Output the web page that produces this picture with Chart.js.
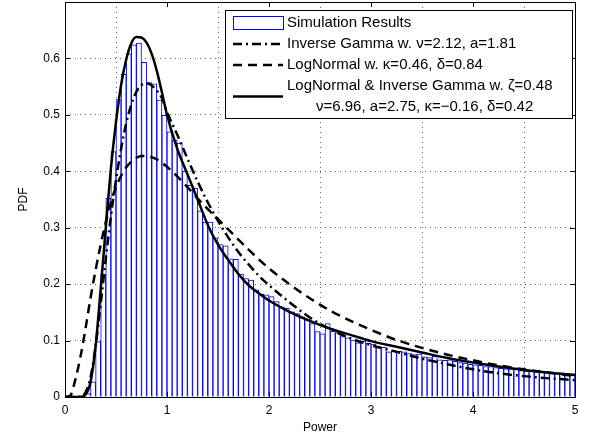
<!DOCTYPE html>
<html>
<head>
<meta charset="utf-8">
<script src="https://cdn.jsdelivr.net/npm/chart.js@4.4.0/dist/chart.umd.min.js"></script>
<style>
  html, body { margin: 0; padding: 0; background: #fff; }
  #wrap { width: 593px; height: 438px; }
</style>
</head>
<body>
<div id="wrap"><canvas id="pdfChart" width="593" height="438"></canvas></div>
<script>
// histogram: 100 bins of width 0.05 from 0 to 5
const binStart = 0;
const binWidth = 0.05;
const simHeights = [
  0, 0, 0, 0.001, 0.006, 0.027, 0.098, 0.218, 0.352, 0.435,
  0.527, 0.572, 0.608, 0.624, 0.627, 0.593, 0.557, 0.555, 0.526, 0.499,
  0.470, 0.455, 0.450, 0.400, 0.375, 0.370, 0.330, 0.310, 0.310, 0.282,
  0.270, 0.268, 0.245, 0.244, 0.218, 0.210, 0.207, 0.190, 0.182, 0.181,
  0.178, 0.169, 0.160, 0.157, 0.151, 0.148, 0.142, 0.137, 0.130, 0.116,
  0.112, 0.130, 0.117, 0.114, 0.107, 0.105, 0.101, 0.096, 0.099, 0.095,
  0.094, 0.089, 0.088, 0.080, 0.082, 0.081, 0.080, 0.077, 0.075, 0.076,
  0.071, 0.070, 0.072, 0.066, 0.065, 0.066, 0.063, 0.061, 0.060, 0.058,
  0.057, 0.056, 0.054, 0.054, 0.052, 0.051, 0.050, 0.050, 0.049, 0.047,
  0.046, 0.047, 0.045, 0.044, 0.044, 0.042, 0.043, 0.041, 0.042, 0.041
];

// fitted curves, sampled at these powers
const curveX = [
  0, 0.05, 0.1, 0.15, 0.2, 0.25, 0.3, 0.35, 0.4, 0.45,
  0.5, 0.55, 0.6, 0.65, 0.7, 0.75, 0.8, 0.85, 0.9, 0.95,
  1.0, 1.1, 1.2, 1.3, 1.4, 1.5, 1.6, 1.7, 1.8, 1.9,
  2.0, 2.2, 2.4, 2.6, 2.8, 3.0, 3.25, 3.5, 3.75, 4.0,
  4.25, 4.5, 4.75, 5.0
];
const invGammaPdf = [
  0, 0, 0, 0.001, 0.008, 0.035, 0.090, 0.165, 0.245, 0.320,
  0.385, 0.440, 0.485, 0.518, 0.541, 0.553, 0.556, 0.552, 0.543, 0.530,
  0.505, 0.465, 0.423, 0.382, 0.345, 0.312, 0.283, 0.257, 0.235, 0.215,
  0.198, 0.168, 0.141, 0.120, 0.104, 0.092, 0.080, 0.068, 0.058, 0.049,
  0.042, 0.037, 0.033, 0.030
];
const logNormalPdf = [
  0, 0.002, 0.030, 0.070, 0.120, 0.175, 0.225, 0.270, 0.310, 0.345,
  0.372, 0.392, 0.407, 0.417, 0.424, 0.427, 0.427, 0.425, 0.421, 0.415,
  0.408, 0.391, 0.372, 0.352, 0.333, 0.315, 0.297, 0.279, 0.261, 0.244,
  0.228, 0.200, 0.175, 0.153, 0.135, 0.119, 0.101, 0.087, 0.075, 0.065,
  0.056, 0.049, 0.043, 0.037
];
const mixturePdf = [
  0, 0, 0, 0.0005, 0.004, 0.026, 0.090, 0.192, 0.300, 0.405,
  0.487, 0.553, 0.598, 0.627, 0.638, 0.637, 0.628, 0.608, 0.578, 0.540,
  0.500, 0.440, 0.395, 0.350, 0.305, 0.270, 0.243, 0.218, 0.198, 0.184,
  0.171, 0.151, 0.135, 0.121, 0.110, 0.099, 0.089, 0.079, 0.069, 0.061,
  0.054, 0.048, 0.043, 0.039
];

const xTicks = [0, 1, 2, 3, 4, 5];
const yTicks = [0, 0.1, 0.2, 0.3, 0.4, 0.5, 0.6];

const fontFamily = "'Liberation Sans', Arial, Helvetica, sans-serif";

function toPoints(xs, ys) {
    return xs.map((x, i) => ({ x: x, y: ys[i] }));
}

const histData = simHeights.map((h, i) => ({ x: binStart + (i + 0.5) * binWidth, y: h }));

// no extra room for the end labels, the plot box is fixed
function noLabelPadding(scale) {
    scale.paddingTop = 0;
    scale.paddingBottom = 0;
    scale.paddingLeft = 0;
    scale.paddingRight = 0;
}

// box, inward ticks and the boxed legend, matlab style
const matlabFrame = {
    id: 'matlabFrame',
    afterDraw(chart) {
        const ctx = chart.ctx;
        const area = chart.chartArea;
        const xs = chart.scales.x;
        const ys = chart.scales.y;
        ctx.save();
        ctx.strokeStyle = '#000';
        ctx.lineWidth = 1;
        ctx.setLineDash([]);
        ctx.beginPath();
        xTicks.forEach(v => {
            const px = Math.round(xs.getPixelForValue(v)) + 0.5;
            ctx.moveTo(px, area.bottom); ctx.lineTo(px, area.bottom - 5);
            ctx.moveTo(px, area.top); ctx.lineTo(px, area.top + 5);
        });
        yTicks.forEach(v => {
            const py = Math.round(ys.getPixelForValue(v)) + 0.5;
            ctx.moveTo(area.left, py); ctx.lineTo(area.left + 5, py);
            ctx.moveTo(area.right, py); ctx.lineTo(area.right - 5, py);
        });
        ctx.stroke();
        ctx.strokeRect(Math.round(area.left) + 0.5, Math.round(area.top) + 0.5,
            Math.round(area.right - area.left), Math.round(area.bottom - area.top));

        // legend
        const box = { x: 225, y: 10, w: 347, h: 108 };
        ctx.fillStyle = '#fff';
        ctx.fillRect(box.x, box.y, box.w, box.h);
        ctx.strokeRect(box.x + 0.5, box.y + 0.5, box.w, box.h);
        const rows = [23, 44, 65, 86];
        const sx0 = 233, sx1 = 283, tx = 287;
        ctx.font = '15px ' + fontFamily;
        ctx.textBaseline = 'middle';
        ctx.textAlign = 'left';
        chart.data.datasets.forEach((ds, i) => {
            const ry = rows[i];
            if (ds.type === 'bar') {
                ctx.strokeStyle = ds.borderColor;
                ctx.lineWidth = 1;
                ctx.setLineDash([]);
                ctx.strokeRect(sx0 + 0.5, ry - 6.5, sx1 - sx0, 13);
            } else {
                const ly = Array.isArray(ds.label) ? ry + 10.5 : ry;
                ctx.strokeStyle = ds.borderColor;
                ctx.lineWidth = ds.borderWidth;
                ctx.setLineDash(ds.borderDash || []);
                ctx.beginPath();
                ctx.moveTo(sx0, ly); ctx.lineTo(sx1, ly);
                ctx.stroke();
            }
            ctx.fillStyle = '#000';
            if (Array.isArray(ds.label)) {
                ctx.fillText(ds.label[0], tx, ry);
                ctx.fillText(ds.label[1], tx + 29, ry + 21);
            } else {
                ctx.fillText(ds.label, tx, ry);
            }
        });
        ctx.restore();
    }
};

const ctx = document.getElementById('pdfChart').getContext('2d');
const chart = new Chart(ctx, {
    type: 'bar',
    data: {
        datasets: [
            {
                type: 'bar',
                label: 'Simulation Results',
                data: histData,
                backgroundColor: '#ffffff',
                borderColor: '#0000ff',
                borderWidth: 1,
                barPercentage: 1.0,
                categoryPercentage: 1.0,
                order: 4
            },
            {
                type: 'line',
                label: 'Inverse Gamma w. \u03bd=2.12, a=1.81',
                data: toPoints(curveX, invGammaPdf),
                borderColor: '#000',
                borderWidth: 2.5,
                borderDash: [9, 4, 2, 4],
                pointRadius: 0,
                fill: false,
                cubicInterpolationMode: 'monotone',
                order: 3
            },
            {
                type: 'line',
                label: 'LogNormal w. \u03ba=0.46, \u03b4=0.84',
                data: toPoints(curveX, logNormalPdf),
                borderColor: '#000',
                borderWidth: 2.5,
                borderDash: [9, 6],
                pointRadius: 0,
                fill: false,
                cubicInterpolationMode: 'monotone',
                order: 2
            },
            {
                type: 'line',
                label: ['LogNormal & Inverse Gamma w. \u03b6=0.48', '\u03bd=6.96, a=2.75, \u03ba=\u22120.16, \u03b4=0.42'],
                data: toPoints(curveX, mixturePdf),
                borderColor: '#000',
                borderWidth: 2.5,
                borderDash: [],
                pointRadius: 0,
                fill: false,
                cubicInterpolationMode: 'monotone',
                order: 1
            }
        ]
    },
    options: {
        responsive: false,
        animation: false,
        devicePixelRatio: 1,
        layout: { padding: { top: 2, right: 18, left: 0, bottom: 0 } },
        plugins: {
            legend: { display: false },
            tooltip: { enabled: false }
        },
        scales: {
            x: {
                type: 'linear',
                min: 0,
                max: 5,
                offset: false,
                afterFit: scale => { scale.height = 41; noLabelPadding(scale); },
                afterBuildTicks: scale => { scale.ticks = xTicks.map(v => ({ value: v })); },
                ticks: {
                    color: '#000',
                    padding: 6,
                    maxRotation: 0,
                    font: { family: fontFamily, size: 12 },
                    callback: v => String(v)
                },
                grid: { color: '#666', drawTicks: false, lineWidth: 1 },
                border: { display: false, dash: [1, 4] },
                title: {
                    display: true,
                    text: 'Power',
                    color: '#000',
                    font: { family: fontFamily, size: 12 },
                    padding: { top: 0, bottom: 3 }
                }
            },
            y: {
                type: 'linear',
                min: 0,
                max: 0.7,
                afterFit: scale => { scale.width = 65; noLabelPadding(scale); },
                afterBuildTicks: scale => { scale.ticks = yTicks.map(v => ({ value: v })); },
                ticks: {
                    color: '#000',
                    padding: 5,
                    font: { family: fontFamily, size: 12 },
                    callback: v => (v === 0 ? '0' : v.toFixed(1))
                },
                grid: { color: '#666', drawTicks: false, lineWidth: 1 },
                border: { display: false, dash: [1, 4] },
                title: {
                    display: true,
                    text: 'PDF',
                    color: '#000',
                    font: { family: fontFamily, size: 12 },
                    padding: { top: 16, bottom: 0 }
                }
            }
        }
    },
    plugins: [matlabFrame]
});
</script>
</body>
</html>
